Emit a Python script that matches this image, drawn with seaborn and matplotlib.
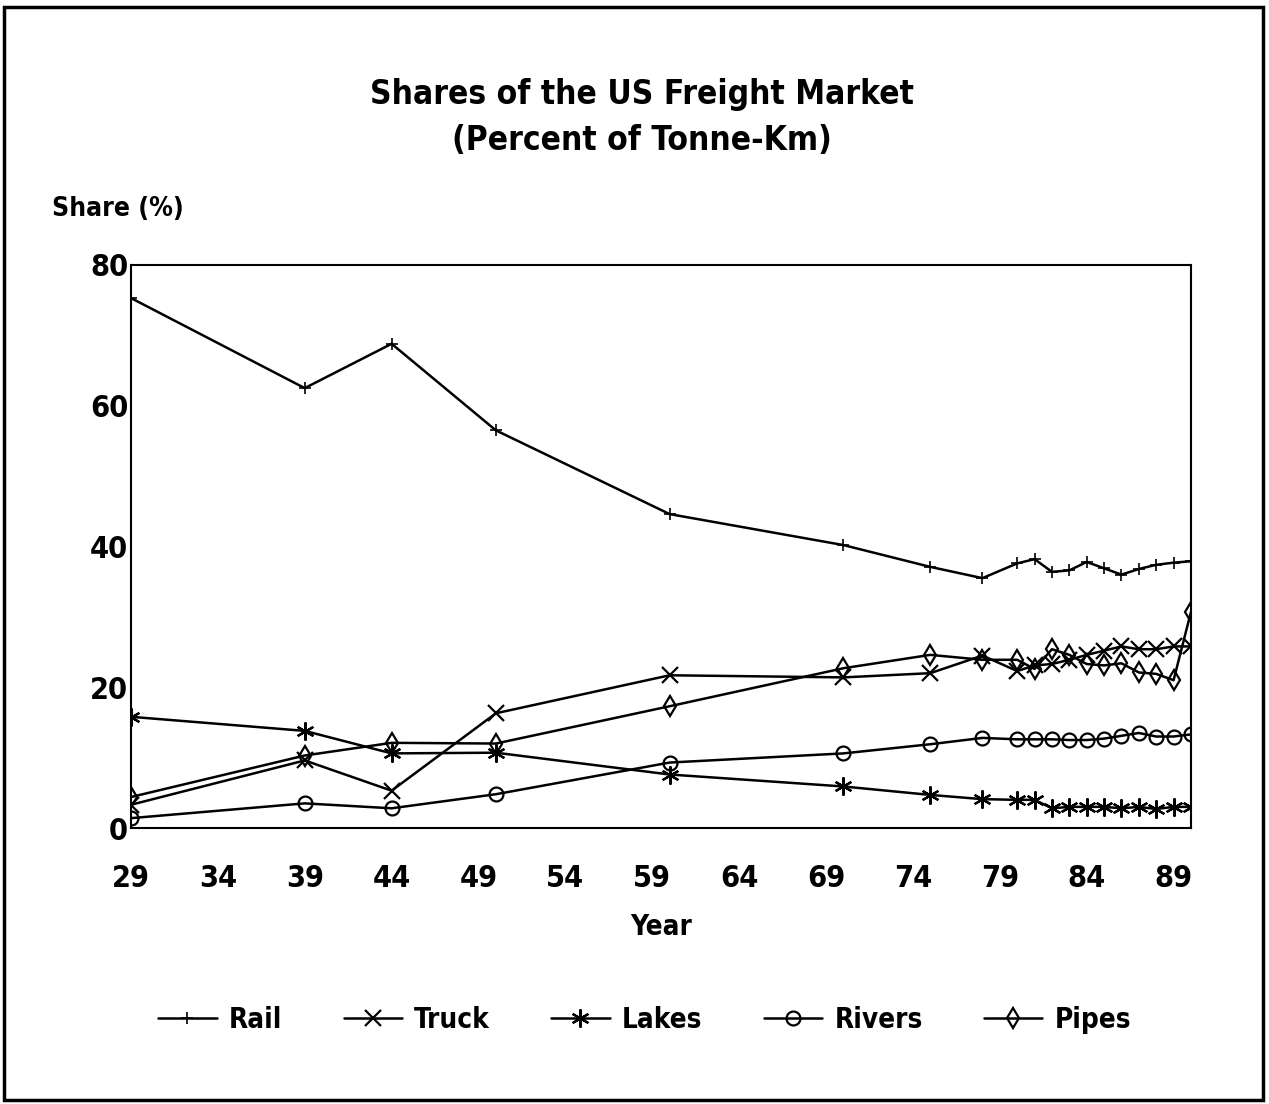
import numpy as np
import pandas as pd
import seaborn as sns
import matplotlib
matplotlib.use("Agg")
import matplotlib.pyplot as plt
from matplotlib.patches import Rectangle

years = [29, 39, 44, 50, 60, 70, 75, 78, 80, 81, 82, 83, 84, 85, 86, 87, 88, 89, 90]
rail = [75.3, 62.5, 68.8, 56.5, 44.6, 40.2, 37.1, 35.5, 37.6, 38.2, 36.4, 36.6, 37.8, 36.9, 36.0, 36.8, 37.4, 37.7, 37.9]
truck = [3.3, 9.6, 5.3, 16.3, 21.7, 21.4, 22.0, 24.5, 22.3, 23.1, 23.3, 23.9, 24.6, 25.2, 25.8, 25.4, 25.4, 25.8, 25.8]
lakes = [15.8, 13.8, 10.6, 10.7, 7.6, 5.9, 4.7, 4.1, 4.0, 4.0, 2.8, 3.0, 3.0, 3.0, 2.8, 3.0, 2.7, 3.0, 3.0]
rivers = [1.4, 3.5, 2.8, 4.8, 9.3, 10.6, 11.9, 12.8, 12.6, 12.6, 12.6, 12.5, 12.5, 12.7, 13.1, 13.5, 13.0, 13.0, 13.3]
pipes = [4.4, 10.3, 12.1, 12.0, 17.3, 22.7, 24.6, 23.9, 23.9, 22.6, 25.4, 24.6, 23.3, 23.1, 23.4, 22.1, 21.9, 21.0, 30.7]

modes = ["Rail", "Truck", "Lakes", "Rivers", "Pipes"]
xticks = [29, 34, 39, 44, 49, 54, 59, 64, 69, 74, 79, 84, 89]
yticks = [0, 20, 40, 60, 80]

df = pd.DataFrame({
    "Year": years * 5,
    "Share": rail + truck + lakes + rivers + pipes,
    "Mode": [m for m in modes for _ in years],
})

sns.set_style("white")
plt.rcParams['font.family'] = ['DejaVu Sans']
plt.rcParams['font.stretch'] = 'condensed'
plt.rcParams['text.color'] = 'black'
plt.rcParams['axes.labelcolor'] = 'black'

fig = plt.figure(figsize=(12.69, 11.04), dpi=100)
ax = fig.add_axes([0.1032, 0.25, 0.8353, 0.51])

marker_style = {
    "Rail": dict(marker="+", markersize=9, mew=1.2),
    "Truck": dict(marker="x", markersize=11, mew=1.6),
    "Lakes": dict(marker=(6, 2, 0), markersize=13, mew=1.6),
    "Rivers": dict(marker="o", markersize=10, mew=1.6, mfc="none"),
    "Pipes": dict(marker="d", markersize=10, mew=1.6, mfc="none"),
}

for m in modes:
    sns.lineplot(data=df[df["Mode"] == m], x="Year", y="Share", ax=ax,
                 color="black", linewidth=1.8, estimator=None, label=m,
                 mec="black", **marker_style[m])

ax.set_xlim(29, 90)
ax.set_ylim(0, 80)
ax.set_xticks(xticks)
ax.set_yticks(yticks)
ax.tick_params(axis="both", direction="in", length=12, width=1.5,
               labelsize=22, labelcolor="black")
ax.tick_params(axis="x", pad=26)
ax.tick_params(axis="y", pad=2)
for lab in ax.get_xticklabels() + ax.get_yticklabels():
    lab.set_fontweight("bold")
for s in ax.spines.values():
    s.set_linewidth(1.5)
    s.set_color("black")

ax.set_xlabel("Year", fontsize=20, labelpad=14, fontweight="semibold", color="black")
ax.set_ylabel("")

fig.text(0.506, 0.914, "Shares of the US Freight Market", ha="center", va="center",
         fontsize=24, fontweight="semibold")
fig.text(0.506, 0.873, "(Percent of Tonne-Km)", ha="center", va="center",
         fontsize=24, fontweight="semibold")
fig.text(0.041, 0.811, "Share (%)", ha="left", va="center", fontsize=19,
         fontweight="semibold")

leg = ax.legend(loc="center", bbox_to_anchor=(0.508, 0.076), bbox_transform=fig.transFigure,
                ncol=5, frameon=False, handlelength=2.1, columnspacing=2.2,
                handletextpad=0.45, prop={"size": 20, "weight": "semibold", "stretch": "condensed"})

fig.add_artist(Rectangle((0.003, 0.004), 0.992, 0.99, transform=fig.transFigure,
                         fill=False, edgecolor="black", linewidth=2.5))

fig.savefig("out.png", dpi=100)
